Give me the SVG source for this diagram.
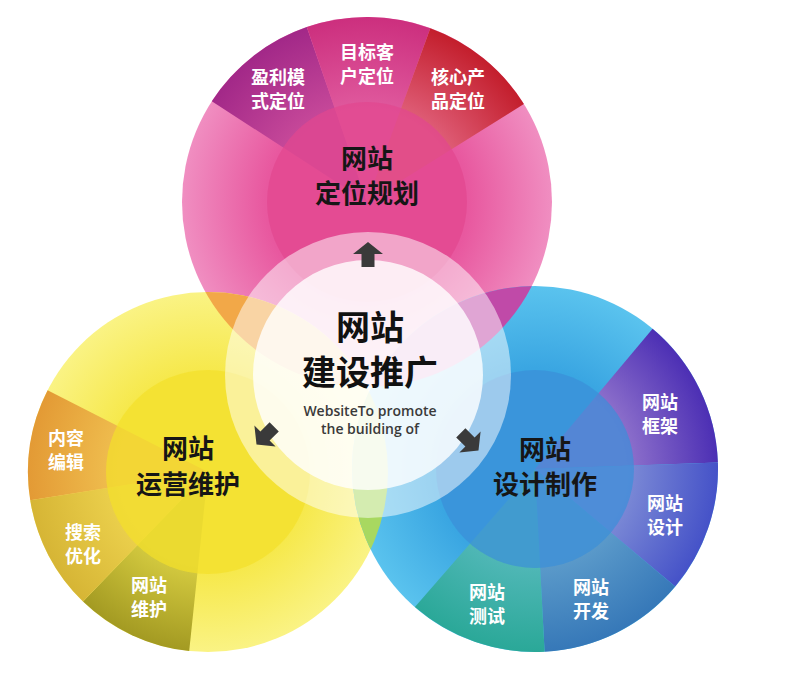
<svg xmlns="http://www.w3.org/2000/svg" width="800" height="687" viewBox="0 0 800 687">
<style>
.title{font-family:"Noto Sans CJK SC","Noto Sans",sans-serif;font-weight:700;font-size:26px;fill:#161616;text-anchor:middle}
.lbl{font-family:"Noto Sans CJK SC","Noto Sans",sans-serif;font-weight:700;font-size:18px;fill:#ffffff;text-anchor:middle}
.ctitle{font-family:"Noto Sans CJK SC","Noto Sans",sans-serif;font-weight:700;font-size:34px;fill:#111;text-anchor:middle}
.en{font-family:"Open Sans","Noto Sans",sans-serif;font-weight:600;font-size:14px;fill:#3a3a3a;text-anchor:middle}
.arrow{fill:#3a3a3a}
</style>
<defs>
<radialGradient id="gPink" gradientUnits="userSpaceOnUse" cx="367" cy="202" r="185"><stop offset="0.55" stop-color="#e8589f"/><stop offset="1" stop-color="#f08ec1"/></radialGradient>
<radialGradient id="gYellow" gradientUnits="userSpaceOnUse" cx="208" cy="472" r="180"><stop offset="0.55" stop-color="#f6e84a"/><stop offset="1" stop-color="#faf384"/></radialGradient>
<radialGradient id="gBlue" gradientUnits="userSpaceOnUse" cx="535" cy="469" r="183"><stop offset="0.55" stop-color="#3aa6e2"/><stop offset="1" stop-color="#5ac3ee"/></radialGradient>
<radialGradient id="wP1" gradientUnits="userSpaceOnUse" cx="367" cy="202" r="185"><stop offset="0.5" stop-color="#c84a9a"/><stop offset="1" stop-color="#a22888"/></radialGradient>
<radialGradient id="wP2" gradientUnits="userSpaceOnUse" cx="367" cy="202" r="185"><stop offset="0.5" stop-color="#e05a9e"/><stop offset="1" stop-color="#cc2f7e"/></radialGradient>
<radialGradient id="wP3" gradientUnits="userSpaceOnUse" cx="367" cy="202" r="185"><stop offset="0.5" stop-color="#e0607a"/><stop offset="1" stop-color="#c31e2c"/></radialGradient>
<radialGradient id="wY1" gradientUnits="userSpaceOnUse" cx="208" cy="472" r="180"><stop offset="0.5" stop-color="#f0c050"/><stop offset="1" stop-color="#e39a35"/></radialGradient>
<radialGradient id="wY2" gradientUnits="userSpaceOnUse" cx="208" cy="472" r="180"><stop offset="0.5" stop-color="#edd24e"/><stop offset="1" stop-color="#d6b535"/></radialGradient>
<radialGradient id="wY3" gradientUnits="userSpaceOnUse" cx="208" cy="472" r="180"><stop offset="0.5" stop-color="#d8ce42"/><stop offset="1" stop-color="#a39a22"/></radialGradient>
<radialGradient id="wB1" gradientUnits="userSpaceOnUse" cx="535" cy="469" r="183"><stop offset="0.5" stop-color="#8f72cc"/><stop offset="1" stop-color="#4c2fb4"/></radialGradient>
<radialGradient id="wB2" gradientUnits="userSpaceOnUse" cx="535" cy="469" r="183"><stop offset="0.5" stop-color="#7d8bd6"/><stop offset="1" stop-color="#4552c8"/></radialGradient>
<radialGradient id="wB3" gradientUnits="userSpaceOnUse" cx="535" cy="469" r="183"><stop offset="0.5" stop-color="#5d9ccb"/><stop offset="1" stop-color="#3678b8"/></radialGradient>
<radialGradient id="wB4" gradientUnits="userSpaceOnUse" cx="535" cy="469" r="183"><stop offset="0.5" stop-color="#52b8b8"/><stop offset="1" stop-color="#2aa898"/></radialGradient>
<clipPath id="cPink"><circle cx="367" cy="202" r="185"/></clipPath>
<clipPath id="cBlue"><circle cx="535" cy="469" r="183"/></clipPath>
<path id="arr" d="M0,-12 L15,0 L6.5,0 L6.5,13 L-6.5,13 L-6.5,0 L-15,0 Z"/>
</defs>
<rect width="800" height="687" fill="#ffffff"/>

<g id="node-pink">
<circle cx="367" cy="202" r="185" fill="url(#gPink)"/>
<path d="M367,202 L211.8,101.2 A185,185 0 0 1 306.8,27.1 Z" fill="url(#wP1)"/>
<path d="M367,202 L306.8,27.1 A185,185 0 0 1 430.3,28.2 Z" fill="url(#wP2)"/>
<path d="M367,202 L430.3,28.2 A185,185 0 0 1 523.9,104 Z" fill="url(#wP3)"/>
<circle cx="367" cy="202" r="100" fill="#e2468f" opacity="0.72"/>
<text class="title" x="367" y="168">网站</text>
<text class="title" x="367" y="203">定位规划</text>
<text class="lbl" x="278" y="84">盈利模</text>
<text class="lbl" x="278" y="108">式定位</text>
<text class="lbl" x="367" y="59">目标客</text>
<text class="lbl" x="367" y="83">户定位</text>
<text class="lbl" x="458" y="84">核心产</text>
<text class="lbl" x="458" y="108">品定位</text>
</g>

<g id="node-yellow">
<circle cx="208" cy="472" r="180" fill="url(#gYellow)"/>
<path d="M208,472 L189.2,651 A180,180 0 0 1 83,601.5 Z" fill="url(#wY3)"/>
<path d="M208,472 L83,601.5 A180,180 0 0 1 30.2,500.2 Z" fill="url(#wY2)"/>
<path d="M208,472 L30.2,500.2 A180,180 0 0 1 47.6,390.3 Z" fill="url(#wY1)"/>
<circle cx="208" cy="472" r="102" fill="#f3df2a" opacity="0.7"/>
<circle cx="208" cy="472" r="180" fill="#f2a848" clip-path="url(#cPink)"/>
<text class="title" x="188" y="458">网站</text>
<text class="title" x="188" y="494">运营维护</text>
<text class="lbl" x="66" y="445">内容</text>
<text class="lbl" x="66" y="469">编辑</text>
<text class="lbl" x="83" y="539">搜索</text>
<text class="lbl" x="83" y="563">优化</text>
<text class="lbl" x="149" y="592">网站</text>
<text class="lbl" x="149" y="616">维护</text>
</g>

<g id="node-blue">
<circle cx="535" cy="469" r="183" fill="url(#gBlue)"/>
<path d="M535,469 L652.6,328.8 A183,183 0 0 1 717.9,462.6 Z" fill="url(#wB1)"/>
<path d="M535,469 L717.9,462.6 A183,183 0 0 1 675.2,586.6 Z" fill="url(#wB2)"/>
<path d="M535,469 L675.2,586.6 A183,183 0 0 1 544.6,651.7 Z" fill="url(#wB3)"/>
<path d="M535,469 L544.6,651.7 A183,183 0 0 1 414.9,607.1 Z" fill="url(#wB4)"/>
<circle cx="535" cy="469" r="99" fill="#3b8fd8" opacity="0.7"/>
<circle cx="367" cy="202" r="185" fill="#c04aa8" clip-path="url(#cBlue)"/>
<g clip-path="url(#cBlue)"><circle cx="208" cy="472" r="180" fill="#a8d860"/></g>
<text class="title" x="545" y="459">网站</text>
<text class="title" x="545" y="494">设计制作</text>
<text class="lbl" x="660" y="409">网站</text>
<text class="lbl" x="660" y="433">框架</text>
<text class="lbl" x="665" y="510">网站</text>
<text class="lbl" x="665" y="534">设计</text>
<text class="lbl" x="591" y="594">网站</text>
<text class="lbl" x="591" y="618">开发</text>
<text class="lbl" x="487" y="599">网站</text>
<text class="lbl" x="487" y="623">测试</text>
</g>

<g id="node-center">
<circle cx="368" cy="375" r="143" fill="#ffffff" opacity="0.5"/>
<circle cx="368" cy="375" r="115" fill="#ffffff" opacity="0.8"/>
<text class="ctitle" x="370" y="340">网站</text>
<text class="ctitle" x="370" y="385">建设推广</text>
<text class="en" x="370" y="416">WebsiteTo promote</text>
<text class="en" x="370" y="434">the building of</text>
</g>

<g id="connectors">
<use href="#arr" class="arrow" transform="translate(368,254)"/>
<use href="#arr" class="arrow" transform="translate(265,436) rotate(225)"/>
<use href="#arr" class="arrow" transform="translate(470,442) rotate(135)"/>
</g>
</svg>
